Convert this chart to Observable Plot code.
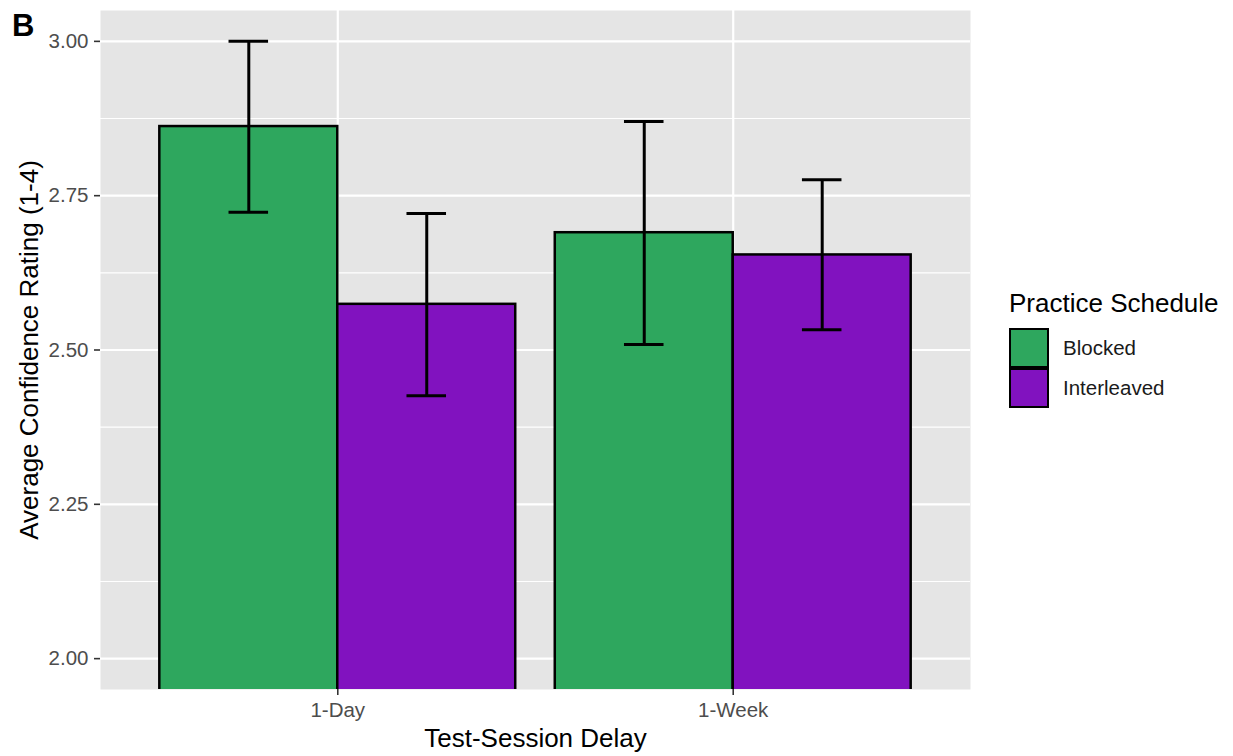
<!DOCTYPE html>
<html>
<head>
<meta charset="utf-8">
<script src="https://cdn.jsdelivr.net/npm/d3@7"></script>
<script src="https://cdn.jsdelivr.net/npm/@observablehq/plot@0.6"></script>
<style>
  html, body { margin: 0; padding: 0; background: white; }
  #wrap { position: relative; width: 1233px; height: 756px; font-family: "Liberation Sans", Arial, Helvetica, sans-serif; }
  #tag { position: absolute; left: 12px; top: 10px; font-size: 31px; font-weight: bold; line-height: 1; color: black; }
  #legend { position: absolute; left: 1009px; top: 288px; }
  #legend .title { font-size: 26px; line-height: 30px; color: black; margin-bottom: 10px; white-space: nowrap; }
  #legend .row { display: flex; align-items: center; height: 40px; }
  #legend .key { width: 36px; height: 36px; border: 2px solid black; box-sizing: content-box; }
  #legend .lab { margin-left: 14px; font-size: 20.5px; color: #1a1a1a; }
</style>
</head>
<body>
<div id="wrap">
  <div id="chart"></div>
  <div id="tag">B</div>
  <div id="legend"></div>
</div>
<script>
// ---- data ----
const delays = ["1-Day", "1-Week"];
const schedules = ["Blocked", "Interleaved"];
const colors = ["#2ea75e", "#8112bf"];
const blockedMean = [2.862, 2.690];
const blockedLow = [2.723, 2.509];
const blockedHigh = [3.000, 2.870];
const interleavedMean = [2.574, 2.654];
const interleavedLow = [2.426, 2.533];
const interleavedHigh = [2.721, 2.776];
const yTicks = [2.00, 2.25, 2.50, 2.75, 3.00];
const yTitle = "Average Confidence Rating (1-4)";
const xTitle = "Test-Session Delay";
const legendTitle = "Practice Schedule";

// ---- build table (ggplot-like dodge: width 0.9) ----
const dodge = 0.9;
const capWidth = 0.1;
const series = [
  {mean: blockedMean, lo: blockedLow, hi: blockedHigh},
  {mean: interleavedMean, lo: interleavedLow, hi: interleavedHigh}
];
const rows = [];
delays.forEach((d, i) => {
  schedules.forEach((s, j) => {
    const pos = i + 1;
    const w = dodge / schedules.length;
    const x1 = pos - dodge / 2 + j * w;
    rows.push({
      delay: d, schedule: s, x1, x2: x1 + w, xc: x1 + w / 2,
      mean: series[j].mean[i], lo: series[j].lo[i], hi: series[j].hi[i]
    });
  });
});
const minorTicks = d3.pairs(yTicks).map(([a, b]) => (a + b) / 2);
const xPositions = delays.map((d, i) => i + 1);

const chart = Plot.plot({
  width: 1233,
  height: 756,
  marginLeft: 100,
  marginRight: 263,
  marginTop: 10,
  marginBottom: 67,
  style: {fontFamily: '"Liberation Sans", Arial, Helvetica, sans-serif', background: "white"},
  x: {domain: [0.4, 2.6]},
  y: {domain: [1.95, 3.05]},
  color: {domain: schedules, range: colors},
  marks: [
    Plot.frame({fill: "#e5e5e5", stroke: null}),
    Plot.ruleY(minorTicks, {stroke: "white", strokeWidth: 1.1}),
    Plot.ruleY(yTicks, {stroke: "white", strokeWidth: 2.2}),
    Plot.ruleX(xPositions, {stroke: "white", strokeWidth: 2.2}),
    Plot.rectY(rows, {x1: "x1", x2: "x2", y1: 0, y2: "mean", fill: "schedule", stroke: "black", strokeWidth: 2.5, clip: true}),
    Plot.ruleX(rows, {x: "xc", y1: "lo", y2: "hi", stroke: "black", strokeWidth: 3}),
    Plot.ruleY(rows, {y: "lo", x1: d => d.xc - capWidth / 2, x2: d => d.xc + capWidth / 2, stroke: "black", strokeWidth: 3}),
    Plot.ruleY(rows, {y: "hi", x1: d => d.xc - capWidth / 2, x2: d => d.xc + capWidth / 2, stroke: "black", strokeWidth: 3}),
    Plot.axisY({ticks: yTicks, tickFormat: d3.format(".2f"), tickSize: 6, tickPadding: 6, fontSize: 20.5, label: null, stroke: "#333333", fill: "#4d4d4d", strokeWidth: 1.6}),
    Plot.axisX({ticks: xPositions, tickFormat: d => delays[d - 1], tickSize: 6, tickPadding: 7, fontSize: 20.5, label: null, stroke: "#333333", fill: "#4d4d4d", strokeWidth: 1.6}),
    Plot.text([yTitle], {frameAnchor: "left", dx: -71, rotate: -90, textAnchor: "middle", lineAnchor: "middle", fontSize: 26, fill: "black"}),
    Plot.text([xTitle], {frameAnchor: "bottom", dy: 49, textAnchor: "middle", lineAnchor: "middle", fontSize: 26, fill: "black"})
  ]
});
document.getElementById("chart").appendChild(chart);

// ---- legend ----
const legend = document.getElementById("legend");
const t = document.createElement("div");
t.className = "title";
t.textContent = legendTitle;
legend.appendChild(t);
schedules.forEach((s, j) => {
  const r = document.createElement("div");
  r.className = "row";
  const k = document.createElement("div");
  k.className = "key";
  k.style.background = colors[j];
  const l = document.createElement("div");
  l.className = "lab";
  l.textContent = s;
  r.appendChild(k); r.appendChild(l);
  legend.appendChild(r);
});
</script>
</body>
</html>
